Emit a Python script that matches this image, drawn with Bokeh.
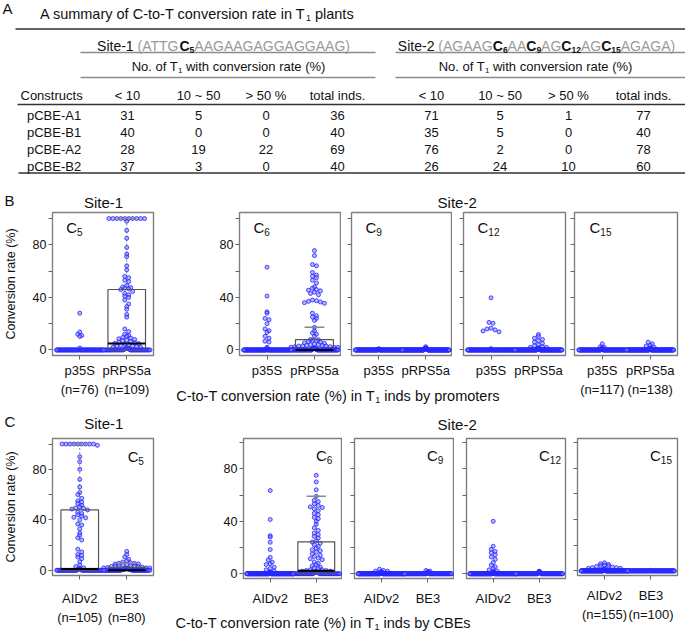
import numpy as np
from bokeh.plotting import figure
from bokeh.models import Range1d, FixedTicker, ColumnDataSource
from bokeh.layouts import row, column
from bokeh.core.properties import value
from bokeh.embed import file_html
from bokeh.resources import INLINE

FONT = "Liberation Sans"
INK = "#111111"
GRAY = "#9a9a9a"
FRAME = "#808080"
TICK = "#666666"
DOT_LINE = "#2323ff"
DOT_FILL = "#7070ff"

# ---------------- Panel A: table data ----------------
constructs = ["pCBE-A1", "pCBE-B1", "pCBE-A2", "pCBE-B2"]
col_headers = ["< 10", "10 ~ 50", "> 50 %", "total inds."]
site1_lt10 = [31, 40, 28, 37]
site1_10_50 = [5, 0, 19, 3]
site1_gt50 = [0, 0, 22, 0]
site1_total = [36, 40, 69, 40]
site2_lt10 = [71, 35, 76, 26]
site2_10_50 = [5, 5, 2, 24]
site2_gt50 = [1, 0, 0, 10]
site2_total = [77, 40, 78, 60]
site1_seq = "ATTGCAAGAAGAGGAGGAAG"
site1_targets = [5]
site2_seq = "AGAAGCAACAGCAGCAGAGA"
site2_targets = [6, 9, 12, 15]

# ---------------- Panel B: by promoters ----------------
b_groups = ["p35S", "pRPS5a"]
b_n_site1 = [76, 109]
b_n_site2 = [117, 138]
# non-zero conversion rates (%) per T1 plant; remaining plants are 0
b_c5_p35s = [28, 13.7, 12, 11, 10.3, 1.5]
b_c5_prps5a = [100, 100, 100, 100, 100, 100, 100, 100, 100, 100, 98, 91, 85, 78, 73, 71, 64, 61, 56, 55, 53, 52,
               49, 48, 47.5, 47, 46.5, 46, 44.5, 43, 42, 41, 40, 38, 35, 33, 31, 27, 25, 16, 14, 12, 11, 10.5,
               9.5, 9, 8.5, 8, 7.5, 7, 6.5, 6, 5.5, 5, 4.9, 4.5, 4, 3.5, 3, 3, 2.5, 2, 2, 1.5, 1.5, 1, 1, 0.5, 0.5]
b_c6_p35s = [63, 41, 29, 28, 24, 23, 20, 16, 14.7, 13.4, 10.4, 9, 6.7, 6, 2, 1, 1]
b_c6_prps5a = [75.6, 71.8, 65, 64, 59, 57, 56, 55, 53, 51,
               48, 47, 46, 45.5, 45, 44, 43, 42, 38, 37.5, 37, 36.5, 36, 35.5, 28, 26, 25, 24, 22.5, 17.2, 14.5, 13, 12, 10.5,
               8, 7.8, 7.4, 7, 6.5, 6, 5.5, 5, 4.5, 4, 4, 3.5, 3.5, 3, 3, 3, 2.5, 2.5, 2, 2, 2, 1.5, 1.5, 1, 1, 1, 1, 0.5, 0.5, 0.5]
b_c9_p35s = [1, 0.5, 0.5]
b_c9_prps5a = [2.5, 1.5, 1.5, 1, 1, 1, 1, 0.5, 0.5, 0.5, 0.5, 0.5]
b_c12_p35s = [39.7, 21, 20.3, 16.6, 16, 15.3, 14.5, 13.8, 1, 0.5]
b_c12_prps5a = [11.8, 10.3, 9, 8, 7, 6, 5, 4, 3.2, 2.5, 2, 2, 1.5, 1.5, 1, 1, 1, 0.5, 0.5, 0.5]
b_c15_p35s = [4.7, 2.5, 2, 1.5, 1, 1, 0.5, 0.5]
b_c15_prps5a = [5.9, 4.7, 3.5, 3, 2, 1.5, 1, 1, 0.5, 0.5]

# ---------------- Panel C: by CBEs ----------------
c_groups = ["AIDv2", "BE3"]
c_n_site1 = [105, 80]
c_n_site2 = [155, 100]
c_c5_aidv2 = [100, 100, 100, 100, 100, 100, 100, 100, 100, 99, 90, 86, 80, 72, 66, 61.6, 60, 57, 55, 54, 53, 51.5,
              50, 49.5, 49, 48.5, 47.8, 46, 45, 44, 43, 42, 41.6, 40, 36.6, 35.9, 32.8, 29.4, 27.8, 25.7, 24, 16.7, 14.5, 12.5, 11.8, 10.5,
              9.2, 6.7, 4.2, 3, 2, 1.5, 1, 1, 0.5, 0.5]
c_c5_be3 = [15, 12.5, 10.7, 8.7, 7.5, 6.6, 6, 5.6, 5.5, 5, 5, 4.5, 4.5, 4, 4, 3.5, 3.5, 3, 3, 2.5, 2.2, 2, 2, 1.8,
            1.5, 1.5, 1.2, 1, 1, 1, 0.8, 0.8, 0.5, 0.5, 0.5, 0.5, 0.3]
c_c6_aidv2 = [63.4, 41.4, 29, 28, 24, 18.5, 12.5, 10.5, 8.9, 7.6, 7, 5, 4, 3, 2, 1.5, 1, 1, 0.5, 0.5]
c_c6_be3 = [75, 70, 64, 59, 56, 55, 53.3, 52, 51, 50.5,
            49.5, 48, 46, 45, 43, 42, 40, 37.7, 35, 33, 31, 29.8, 28.5, 27.3, 25, 24.1, 23.3, 22, 20.8, 19.5, 18.3, 17.5, 16.5, 15, 14, 13.2, 12, 11.5, 10.7,
            9, 8, 7, 6, 5, 4.5, 4, 3, 3, 2.5, 2.5, 2, 2, 1.5, 1.5, 1, 1, 0.5, 0.5]
c_c9_aidv2 = [3.5, 2.5, 2, 2, 1.5, 1.5, 1, 1, 1, 0.5, 0.5, 0.5]
c_c9_be3 = [2.5, 2, 1.5, 1.5, 1, 1, 0.5]
c_c12_aidv2 = [40, 21, 18.6, 17, 16, 14.5, 12.8, 11, 8.5, 6.6, 5.3, 4, 3, 2, 1.5, 1.5, 1, 1, 1, 0.5, 0.5]
c_c12_be3 = [2, 1.5, 1.5, 1, 1, 1, 0.5, 0.5]
c_c15_aidv2 = [6.3, 5.5, 5, 4.5, 4, 3.8, 3.5, 3, 2.5, 2.5, 2, 2, 1.5, 1.5, 1, 1, 1, 0.5, 0.5]
c_c15_be3 = [0.5]

y_ticks = [0, 20, 40, 60, 80, 100]
y_tick_labels = ["0", "", "40", "", "80", ""]

# ---------------- helpers ----------------
AW = {' ': 278, '!': 278, '"': 355, '#': 556, '$': 556, '%': 889, '&': 667, "'": 191, '(': 333, ')': 333,
      '*': 389, '+': 584, ',': 278, '-': 333, '.': 278, '/': 278, ':': 278, ';': 278, '<': 584, '=': 584,
      '>': 584, '?': 556, '@': 1015, 'A': 667, 'B': 667, 'C': 722, 'D': 722, 'E': 667, 'F': 611, 'G': 778,
      'H': 722, 'I': 278, 'J': 500, 'K': 667, 'L': 556, 'M': 833, 'N': 722, 'O': 778, 'P': 667, 'Q': 778,
      'R': 722, 'S': 667, 'T': 611, 'U': 722, 'V': 667, 'W': 944, 'X': 667, 'Y': 667, 'Z': 611, '[': 278,
      ']': 278, '^': 469, '_': 556, 'a': 556, 'b': 556, 'c': 500, 'd': 556, 'e': 556, 'f': 278, 'g': 556,
      'h': 556, 'i': 222, 'j': 222, 'k': 500, 'l': 222, 'm': 833, 'n': 556, 'o': 556, 'p': 556, 'q': 556,
      'r': 333, 's': 500, 't': 278, 'u': 556, 'v': 500, 'w': 722, 'x': 500, 'y': 500, 'z': 500, '~': 584}
for _d in "0123456789":
    AW[_d] = 556


def tw(s, size):
    return sum(AW.get(ch, 556) for ch in s) * size / 1000.0


def strip(x0, x1, y0, y1):
    p = figure(width=int(x1 - x0), height=int(y1 - y0), x_range=Range1d(x0, x1), y_range=Range1d(y1, y0),
               output_backend="svg", toolbar_location=None, x_axis_type=None, y_axis_type=None,
               min_border_left=0, min_border_right=0, min_border_top=0, min_border_bottom=0)
    p.grid.visible = False
    p.outline_line_color = None
    p.background_fill_color = "white"
    p.border_fill_color = "white"
    return p


def rich(p, x, yc, pieces, align="left"):
    """pieces: (text, size, color, bold, sub); yc = vertical centre of main text; y axis of p points down."""
    main = max(pc[1] for pc in pieces)
    total = sum(tw(pc[0], pc[1]) for pc in pieces)
    if align == "center":
        x = x - total / 2.0
    for t, s, col, bold, sub in pieces:
        lead = t[:len(t) - len(t.lstrip(" "))]
        x += tw(lead, s)
        body = t.strip(" ")
        if sub:
            y = yc + 0.358 * main + 0.2 * main - 0.358 * s
        else:
            y = yc + 0.358 * (main - s)
        if body:
            p.text(x=[x], y=[y], text=[body], text_font=value(FONT), text_font_size=f"{s}px",
                   text_color=col, text_font_style="bold" if bold else "normal",
                   text_align="left", text_baseline="middle")
        x += tw(t.lstrip(" "), s)


def seq_pieces(name, seq, targets, size, sub_size):
    pieces = [(name + " ", size, INK, False, False)]
    buf = "("
    for i, ch in enumerate(seq, start=1):
        if i in targets:
            pieces.append((buf, size, GRAY, False, False))
            buf = ""
            pieces.append((ch, size, INK, True, False))
            pieces.append((str(i), sub_size, INK, True, True))
        else:
            buf += ch
    pieces.append((buf + ")", size, GRAY, False, False))
    return pieces


def swarm(v, ppy, ppx, d=4.0, maxw=47.0):
    v = np.asarray(v, float)
    off = np.zeros(len(v))
    bins = np.floor(v * ppy / d + 0.5).astype(int)
    for b in np.unique(bins):
        idx = np.where(bins == b)[0]
        k = len(idx)
        if k < 2:
            continue
        s = min(d, maxw / (k - 1))
        slots = (np.arange(k) - (k - 1) / 2.0) * s
        slots = slots[np.argsort(np.abs(slots), kind="stable")]
        order = idx[np.argsort(-v[idx], kind="stable")]
        off[order] = slots
    return off / ppx


XR = (0.42, 2.57)


def make_plot(groups, ns, w, h, ml, mr, mt, mb, yr, xlabels, ylab_on, ylabel, csub, cdx, cdy, xstand):
    p = figure(width=w, height=h, x_range=Range1d(*XR), y_range=Range1d(*yr),
               output_backend="svg", toolbar_location=None,
               min_border_left=ml, min_border_right=mr, min_border_top=mt, min_border_bottom=mb)
    p.grid.visible = False
    p.outline_line_color = FRAME
    p.outline_line_width = 1.4
    p.background_fill_color = "white"
    p.border_fill_color = "white"
    fw = w - ml - mr
    fh = h - mt - mb
    ppx = fw / (XR[1] - XR[0])
    ppy = fh / (yr[1] - yr[0])
    xs, ys, stats = [], [], []
    for i, (nz, n) in enumerate(zip(groups, ns)):
        v = np.array(list(nz) + [0.0] * (n - len(nz)), float)
        c = i + 1
        xs.append(c + swarm(v, ppy, ppx))
        ys.append(v)
        q1, q2, q3 = np.percentile(v, [25, 50, 75])
        hi = v[v <= q3 + 1.5 * (q3 - q1)].max()
        if q3 > q1:
            stats.append((c, q1, q2, q3, hi))
    src = None
    if stats:
        cc, q1s, q2s, q3s, his = map(list, zip(*stats))
        src = ColumnDataSource(dict(c=cc, q1=q1s, q2=q2s, q3=q3s, hi=his,
                                    l=[c - 0.4 for c in cc], r=[c + 0.4 for c in cc],
                                    cl=[c - 0.21 for c in cc], cr=[c + 0.21 for c in cc]))
        p.segment(x0="c", y0="q3", x1="c", y1="hi", source=src, line_color="#888888", line_width=1,
                  line_dash="2 2")
    p.scatter(x=np.concatenate(xs), y=np.concatenate(ys), size=4.0, line_color=DOT_LINE, line_width=0.8,
              fill_color=DOT_FILL, fill_alpha=0.5)
    if src is not None:
        p.quad(left="l", right="r", bottom="q1", top="q3", source=src, fill_color=None,
               line_color="#555555", line_width=1.2)
        p.segment(x0="l", y0="q2", x1="r", y1="q2", source=src, line_color="black", line_width=2)
        p.segment(x0="cl", y0="hi", x1="cr", y1="hi", source=src, line_color="#888888", line_width=1.5)
    # x axis
    xa = p.xaxis[0]
    xa.ticker = FixedTicker(ticks=[1, 2])
    xa.major_label_overrides = {1: xlabels[0], 2: xlabels[1]}
    xa.axis_line_color = None
    xa.major_tick_out = 4
    xa.major_tick_in = 0
    xa.major_tick_line_color = TICK
    xa.minor_tick_line_color = None
    xa.major_label_text_font = FONT
    xa.major_label_text_font_size = "13px"
    xa.major_label_text_color = INK
    xa.major_label_standoff = xstand
    xa.major_label_text_line_height = 1.28
    # y axis
    ya = p.yaxis[0]
    ya.ticker = FixedTicker(ticks=y_ticks)
    if ylab_on:
        ya.major_label_overrides = {t: l for t, l in zip(y_ticks, y_tick_labels)}
        ya.major_label_standoff = 2
    else:
        ya.major_label_overrides = {t: "" for t in y_ticks}
        ya.major_label_standoff = 0
    ya.axis_line_color = None
    ya.major_tick_out = 4
    ya.major_tick_in = 0
    ya.major_tick_line_color = TICK
    ya.minor_tick_line_color = None
    ya.major_label_text_font = FONT
    ya.major_label_text_font_size = "12.5px"
    ya.major_label_text_color = INK
    if ylabel:
        ya.axis_label = ylabel
        ya.axis_label_text_font = FONT
        ya.axis_label_text_font_size = "12.5px"
        ya.axis_label_text_font_style = "normal"
        ya.axis_label_text_color = INK
        ya.axis_label_standoff = 12
    # C-position label inside the frame
    x0 = XR[0] + cdx / ppx
    yc = yr[1] - cdy / ppy
    p.text(x=[x0], y=[yc], text=["C"], text_font=value(FONT), text_font_size="15px", text_color=INK,
           text_align="left", text_baseline="middle")
    p.text(x=[x0 + tw("C", 15) / ppx], y=[yc - 4.8 / ppy], text=[csub], text_font=value(FONT),
           text_font_size="10px", text_color=INK, text_align="left", text_baseline="middle")
    return p


# ---------------- Panel A (table) + B headings (y 0 -> 211) ----------------
tab = strip(0, 685, 0, 211)
rich(tab, 2, 8, [("A", 15, INK, False, False)])
rich(tab, 39.5, 13, [("A summary of C-to-T conversion rate in T", 14.5, INK, False, False),
                     ("1", 9, INK, False, True), (" plants", 14.5, INK, False, False)])
tab.segment(x0=[15, 17, 18], y0=[28.5, 104, 172.5], x1=[685, 685, 685], y1=[28.5, 104, 172.5],
            line_color="#333333", line_width=1.4)
tab.segment(x0=[80, 395, 80, 395], y0=[52, 52, 77, 77], x1=[375, 685, 375, 685], y1=[52, 52, 77, 77],
            line_color="#8c8c8c", line_width=1.6)
rich(tab, 223, 45, seq_pieces("Site-1", site1_seq, site1_targets, 14, 8.5), align="center")
rich(tab, 536, 45, seq_pieces("Site-2", site2_seq, site2_targets, 14, 8.5), align="center")
for cx in (228, 535):
    rich(tab, cx, 66, [("No. of T", 13, INK, False, False), ("1", 8, INK, False, True),
                       (" with conversion rate (%)", 13, INK, False, False)], align="center")
col_x = [127, 198, 265.5, 337, 431, 499.5, 568, 643]
row_y = [114.5, 131.5, 148.5, 165.5]
hdr_y = 95
tab.text(x=[20], y=[hdr_y], text=["Constructs"], text_font=value(FONT), text_font_size="13px",
         text_color=INK, text_align="left", text_baseline="middle")
tab.text(x=col_x, y=[hdr_y] * 8, text=col_headers + col_headers, text_font=value(FONT),
         text_font_size="13px", text_color=INK, text_align="center", text_baseline="middle")
tab.text(x=[26.5] * 4, y=row_y, text=constructs, text_font=value(FONT),
         text_font_size="13px", text_color=INK, text_align="left", text_baseline="middle")
for cx, col in zip(col_x, [site1_lt10, site1_10_50, site1_gt50, site1_total,
                           site2_lt10, site2_10_50, site2_gt50, site2_total]):
    tab.text(x=[cx] * 4, y=row_y, text=[str(v) for v in col], text_font=value(FONT),
             text_font_size="13px", text_color=INK, text_align="center", text_baseline="middle")
rich(tab, 4, 200, [("B", 15, INK, False, False)])
rich(tab, 103, 201.5, [("Site-1", 15, INK, False, False)], align="center")
rich(tab, 456.7, 201.5, [("Site-2", 15, INK, False, False)], align="center")

# ---------------- Panel B plots (y 211 -> 405) ----------------
YR_B = (-4.2, 104.6)
bl = [f"{b_groups[0]}\n(n={b_n_site1[0]})", f"{b_groups[1]}\n(n={b_n_site1[1]})"]
b1 = make_plot([b_c5_p35s, b_c5_prps5a], b_n_site1, 165, 194, 51, 12, 1, 50, YR_B, bl, True,
               "Conversion rate (%)", "5", 14, 15, 3)
b6 = make_plot([b_c6_p35s, b_c6_prps5a], b_n_site2, 176, 172, 74, 0, 1, 28, YR_B, b_groups, True,
               None, "6", 14, 15, 3)
b9 = make_plot([b_c9_p35s, b_c9_prps5a], b_n_site2, 111, 172, 10, 0, 1, 28, YR_B, b_groups, False,
               None, "9", 14, 15, 3)
b12 = make_plot([b_c12_p35s, b_c12_prps5a], b_n_site2, 116, 172, 11, 3, 1, 28, YR_B, b_groups, False,
                None, "12", 14, 15, 3)
bl2 = [f"{b_groups[0]}\n(n={b_n_site2[0]})", f"{b_groups[1]}\n(n={b_n_site2[1]})"]
b15 = make_plot([b_c15_p35s, b_c15_prps5a], b_n_site2, 117, 194, 6, 8, 1, 50, YR_B, bl2, False,
                None, "15", 15, 15, 3)
btitle = strip(165, 568, 383, 405)
rich(btitle, 175.7, 395, [("C-to-T conversion rate (%) in T", 14.5, INK, False, False), ("1", 9, INK, False, True),
                          (" inds by promoters", 14.5, INK, False, False)])

# ---------------- Panel C (y 405 -> 631) ----------------
cstrip = strip(0, 685, 405, 433)
rich(cstrip, 4, 421, [("C", 15, INK, False, False)])
rich(cstrip, 103.3, 422.5, [("Site-1", 15, INK, False, False)], align="center")
rich(cstrip, 456.7, 424, [("Site-2", 15, INK, False, False)], align="center")

YR_C1 = (-4.1, 104.4)
YR_C2 = (-3.6, 103.1)
cl = [f"{c_groups[0]}\n(n={c_n_site1[0]})", f"{c_groups[1]}\n(n={c_n_site1[1]})"]
c1 = make_plot([c_c5_aidv2, c_c5_be3], c_n_site1, 165, 198, 50, 12, 1, 56, YR_C1, cl, True,
               "Conversion rate (%)", "5", 76.7, 18.7, 11)
c6 = make_plot([c_c6_aidv2, c_c6_be3], c_n_site2, 177, 177, 78, 0, 5, 32, YR_C2, c_groups, True,
               None, "6", 72.5, 17, 8)
c9 = make_plot([c_c9_aidv2, c_c9_be3], c_n_site2, 112, 177, 12, 0, 5, 32, YR_C2, c_groups, False,
               None, "9", 72.5, 17, 8)
c12 = make_plot([c_c12_aidv2, c_c12_be3], c_n_site2, 114, 177, 12, 3, 5, 32, YR_C2, c_groups, False,
                None, "12", 72.5, 17, 8)
cl2 = [f"{c_groups[0]}\n(n={c_n_site2[0]})", f"{c_groups[1]}\n(n={c_n_site2[1]})"]
c15 = make_plot([c_c15_aidv2, c_c15_be3], c_n_site2, 117, 198, 9, 8, 5, 53, YR_C2, cl2, False,
                None, "15", 72.5, 17, 8)
ctitle = strip(165, 568, 610, 631)
rich(ctitle, 175, 622, [("C-to-T conversion rate (%) in T", 14.5, INK, False, False), ("1", 9, INK, False, True),
                        (" inds by CBEs", 14.5, INK, False, False)])

layout = column(
    tab,
    row(b1, column(row(b6, b9, b12), btitle), b15),
    cstrip,
    row(c1, column(row(c6, c9, c12), ctitle), c15),
)

open("out.html", "w").write(file_html(layout, INLINE))
